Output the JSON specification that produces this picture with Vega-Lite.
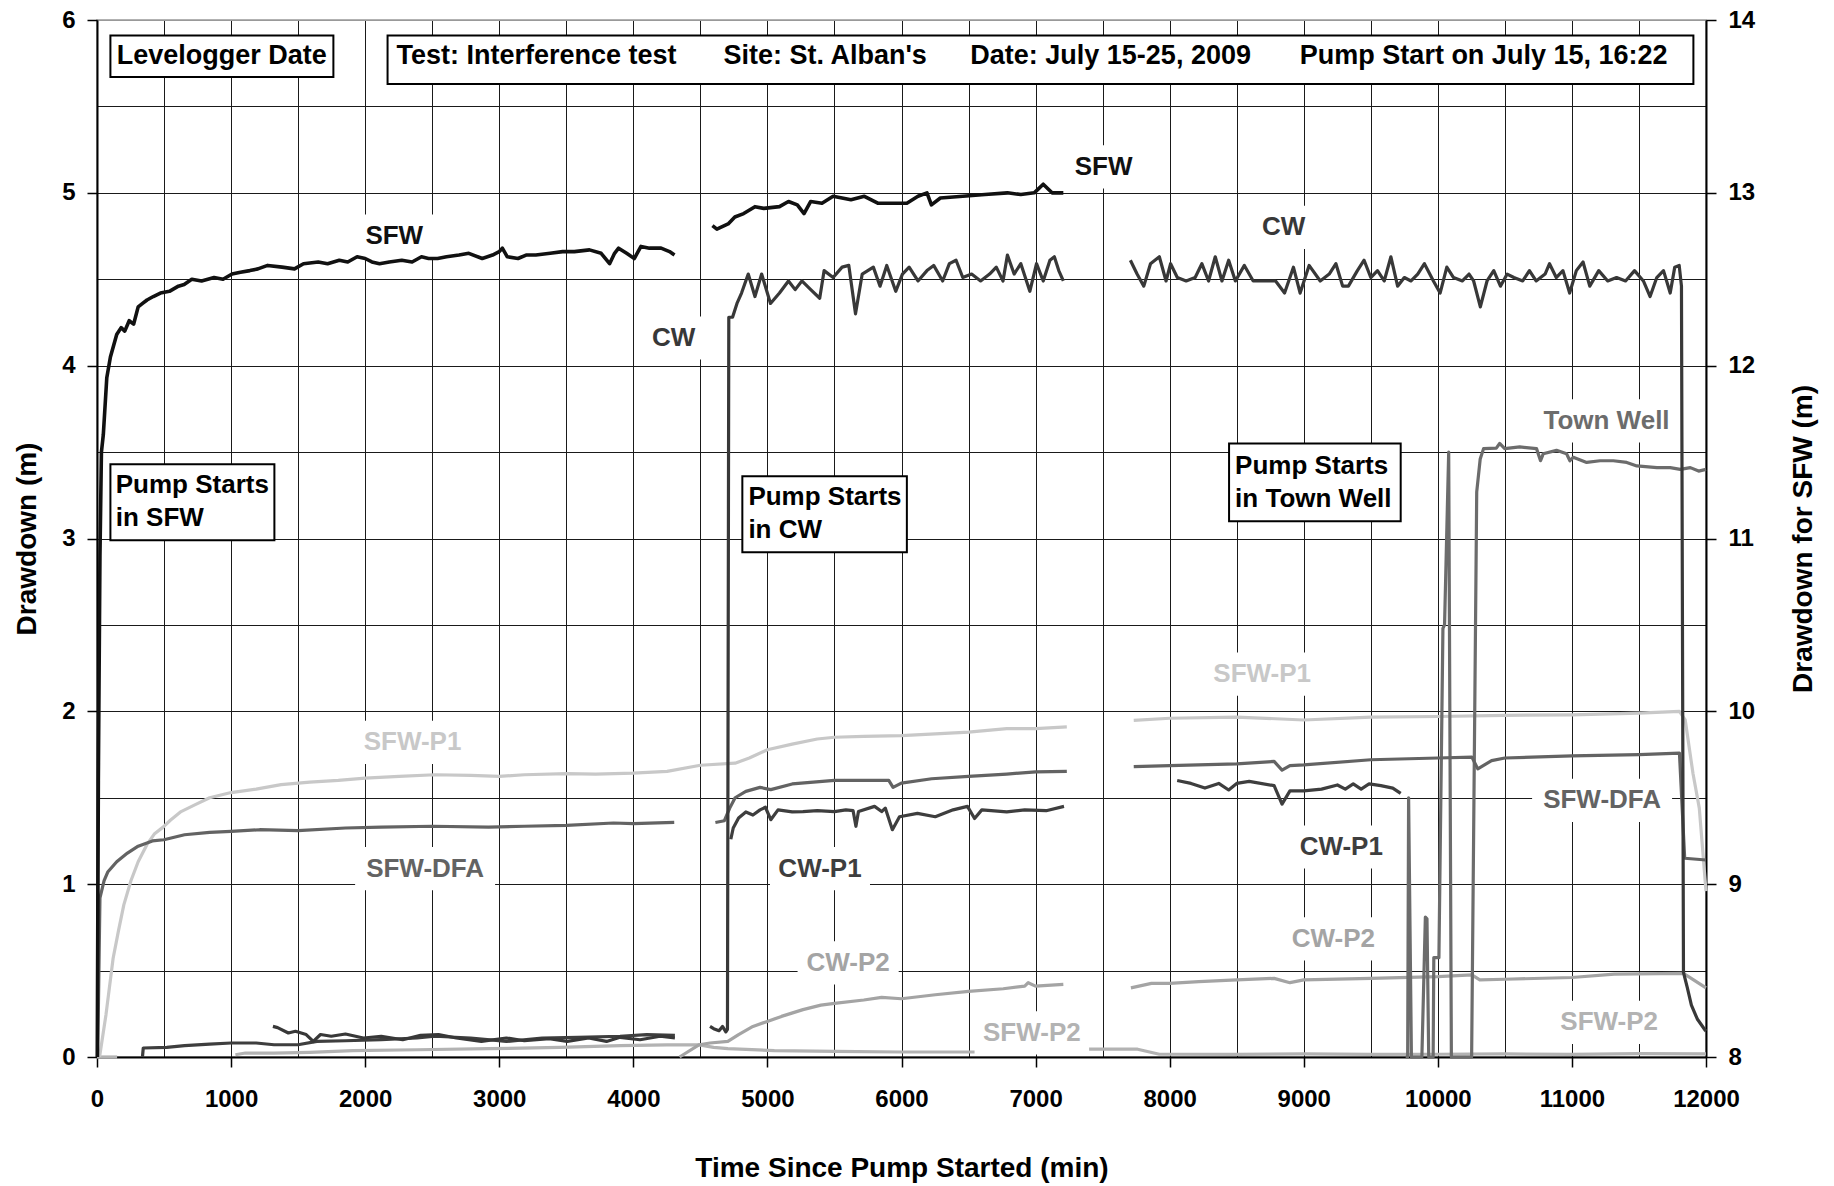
{
"$schema": "https://vega.github.io/schema/vega-lite/v6.json",
"width": 1609, "height": 1037,
"autosize": "none",
"padding": {"left": 97, "top": 20, "right": 128, "bottom": 129},
"background": "white",
"config": {"font": "Liberation Sans", "view": {"stroke": "#999999", "strokeWidth": 1.5}},
"datasets": {
"series": [
{"s":"SFW-P2","g":0,"t":0,"d":0},{"s":"SFW-P2","g":0,"t":150,"d":0},
{"s":"SFW-P2","g":1,"t":1032,"d":0.013},{"s":"SFW-P2","g":1,"t":1107,"d":0.023},{"s":"SFW-P2","g":1,"t":1320,"d":0.023},{"s":"SFW-P2","g":1,"t":1587,"d":0.027},{"s":"SFW-P2","g":1,"t":1907,"d":0.037},{"s":"SFW-P2","g":1,"t":2387,"d":0.042},{"s":"SFW-P2","g":1,"t":2920,"d":0.048},{"s":"SFW-P2","g":1,"t":3453,"d":0.056},{"s":"SFW-P2","g":1,"t":3901,"d":0.066},{"s":"SFW-P2","g":1,"t":4250,"d":0.07},{"s":"SFW-P2","g":1,"t":4492,"d":0.07},{"s":"SFW-P2","g":1,"t":4599,"d":0.056},{"s":"SFW-P2","g":1,"t":4705,"d":0.048},{"s":"SFW-P2","g":1,"t":5052,"d":0.037},{"s":"SFW-P2","g":1,"t":5500,"d":0.033},{"s":"SFW-P2","g":1,"t":5999,"d":0.029},{"s":"SFW-P2","g":1,"t":6545,"d":0.029},
{"s":"SFW-P2","g":2,"t":7399,"d":0.045},{"s":"SFW-P2","g":2,"t":7761,"d":0.045},{"s":"SFW-P2","g":2,"t":7923,"d":0.016},{"s":"SFW-P2","g":2,"t":8500,"d":0.015},{"s":"SFW-P2","g":2,"t":9000,"d":0.018},{"s":"SFW-P2","g":2,"t":9500,"d":0.015},{"s":"SFW-P2","g":2,"t":10000,"d":0.016},{"s":"SFW-P2","g":2,"t":10500,"d":0.018},{"s":"SFW-P2","g":2,"t":11000,"d":0.015},{"s":"SFW-P2","g":2,"t":11500,"d":0.02},{"s":"SFW-P2","g":2,"t":12000,"d":0.018},
{"s":"SFW-P1","g":1,"t":19,"d":0},{"s":"SFW-P1","g":1,"t":67,"d":0.245},{"s":"SFW-P1","g":1,"t":120,"d":0.57},{"s":"SFW-P1","g":1,"t":160,"d":0.73},{"s":"SFW-P1","g":1,"t":200,"d":0.88},{"s":"SFW-P1","g":1,"t":253,"d":1.02},{"s":"SFW-P1","g":1,"t":307,"d":1.13},{"s":"SFW-P1","g":1,"t":373,"d":1.23},{"s":"SFW-P1","g":1,"t":427,"d":1.29},{"s":"SFW-P1","g":1,"t":493,"d":1.33},{"s":"SFW-P1","g":1,"t":547,"d":1.37},{"s":"SFW-P1","g":1,"t":627,"d":1.42},{"s":"SFW-P1","g":1,"t":733,"d":1.46},{"s":"SFW-P1","g":1,"t":840,"d":1.5},{"s":"SFW-P1","g":1,"t":1000,"d":1.53},{"s":"SFW-P1","g":1,"t":1187,"d":1.55},{"s":"SFW-P1","g":1,"t":1373,"d":1.576},{"s":"SFW-P1","g":1,"t":1587,"d":1.59},{"s":"SFW-P1","g":1,"t":1800,"d":1.6},{"s":"SFW-P1","g":1,"t":2000,"d":1.614},{"s":"SFW-P1","g":1,"t":2253,"d":1.624},{"s":"SFW-P1","g":1,"t":2520,"d":1.633},{"s":"SFW-P1","g":1,"t":2787,"d":1.63},{"s":"SFW-P1","g":1,"t":3000,"d":1.624},{"s":"SFW-P1","g":1,"t":3187,"d":1.633},{"s":"SFW-P1","g":1,"t":3501,"d":1.64},{"s":"SFW-P1","g":1,"t":3719,"d":1.637},{"s":"SFW-P1","g":1,"t":3999,"d":1.643},{"s":"SFW-P1","g":1,"t":4252,"d":1.653},{"s":"SFW-P1","g":1,"t":4500,"d":1.688},{"s":"SFW-P1","g":1,"t":4759,"d":1.7},{"s":"SFW-P1","g":1,"t":4865,"d":1.73},{"s":"SFW-P1","g":1,"t":4999,"d":1.778},{"s":"SFW-P1","g":1,"t":5185,"d":1.81},{"s":"SFW-P1","g":1,"t":5372,"d":1.84},{"s":"SFW-P1","g":1,"t":5500,"d":1.85},{"s":"SFW-P1","g":1,"t":5719,"d":1.855},{"s":"SFW-P1","g":1,"t":5999,"d":1.86},{"s":"SFW-P1","g":1,"t":6252,"d":1.87},{"s":"SFW-P1","g":1,"t":6500,"d":1.88},{"s":"SFW-P1","g":1,"t":6785,"d":1.9},{"s":"SFW-P1","g":1,"t":7001,"d":1.9},{"s":"SFW-P1","g":1,"t":7233,"d":1.91},
{"s":"SFW-P1","g":2,"t":7732,"d":1.948},{"s":"SFW-P1","g":2,"t":8000,"d":1.96},{"s":"SFW-P1","g":2,"t":8500,"d":1.967},{"s":"SFW-P1","g":2,"t":9000,"d":1.95},{"s":"SFW-P1","g":2,"t":9500,"d":1.967},{"s":"SFW-P1","g":2,"t":10000,"d":1.97},{"s":"SFW-P1","g":2,"t":10500,"d":1.977},{"s":"SFW-P1","g":2,"t":11000,"d":1.98},{"s":"SFW-P1","g":2,"t":11500,"d":1.99},{"s":"SFW-P1","g":2,"t":11802,"d":2.0},{"s":"SFW-P1","g":2,"t":11845,"d":1.95},{"s":"SFW-P1","g":2,"t":11903,"d":1.64},{"s":"SFW-P1","g":2,"t":11950,"d":1.44},{"s":"SFW-P1","g":2,"t":12000,"d":0.96},
{"s":"CW-P2","g":1,"t":4345,"d":0},{"s":"CW-P2","g":1,"t":4492,"d":0.071},{"s":"CW-P2","g":1,"t":4572,"d":0.081},{"s":"CW-P2","g":1,"t":4705,"d":0.09},{"s":"CW-P2","g":1,"t":4785,"d":0.13},{"s":"CW-P2","g":1,"t":4892,"d":0.177},{"s":"CW-P2","g":1,"t":4999,"d":0.206},{"s":"CW-P2","g":1,"t":5105,"d":0.235},{"s":"CW-P2","g":1,"t":5265,"d":0.274},{"s":"CW-P2","g":1,"t":5399,"d":0.3},{"s":"CW-P2","g":1,"t":5500,"d":0.31},{"s":"CW-P2","g":1,"t":5719,"d":0.33},{"s":"CW-P2","g":1,"t":5852,"d":0.345},{"s":"CW-P2","g":1,"t":5999,"d":0.337},{"s":"CW-P2","g":1,"t":6252,"d":0.36},{"s":"CW-P2","g":1,"t":6500,"d":0.38},{"s":"CW-P2","g":1,"t":6759,"d":0.395},{"s":"CW-P2","g":1,"t":6919,"d":0.41},{"s":"CW-P2","g":1,"t":6945,"d":0.43},{"s":"CW-P2","g":1,"t":6999,"d":0.41},{"s":"CW-P2","g":1,"t":7207,"d":0.42},
{"s":"CW-P2","g":2,"t":7711,"d":0.4},{"s":"CW-P2","g":2,"t":7864,"d":0.426},{"s":"CW-P2","g":2,"t":8000,"d":0.426},{"s":"CW-P2","g":2,"t":8218,"d":0.436},{"s":"CW-P2","g":2,"t":8500,"d":0.446},{"s":"CW-P2","g":2,"t":8779,"d":0.455},{"s":"CW-P2","g":2,"t":8897,"d":0.43},{"s":"CW-P2","g":2,"t":9000,"d":0.446},{"s":"CW-P2","g":2,"t":9500,"d":0.455},{"s":"CW-P2","g":2,"t":10000,"d":0.465},{"s":"CW-P2","g":2,"t":10254,"d":0.475},{"s":"CW-P2","g":2,"t":10313,"d":0.446},{"s":"CW-P2","g":2,"t":10500,"d":0.45},{"s":"CW-P2","g":2,"t":11000,"d":0.46},{"s":"CW-P2","g":2,"t":11316,"d":0.479},{"s":"CW-P2","g":2,"t":11832,"d":0.484},{"s":"CW-P2","g":2,"t":12000,"d":0.4},
{"s":"Town Well","g":1,"t":9760,"d":0},{"s":"Town Well","g":1,"t":9775,"d":0},{"s":"Town Well","g":1,"t":9782,"d":1.5},{"s":"Town Well","g":1,"t":9803,"d":0},{"s":"Town Well","g":1,"t":9881,"d":0},{"s":"Town Well","g":1,"t":9907,"d":0.81},{"s":"Town Well","g":1,"t":9919,"d":0.8},{"s":"Town Well","g":1,"t":9932,"d":0},{"s":"Town Well","g":1,"t":9965,"d":0},{"s":"Town Well","g":1,"t":9970,"d":0.575},{"s":"Town Well","g":1,"t":10008,"d":0.575},{"s":"Town Well","g":1,"t":10038,"d":2.48},{"s":"Town Well","g":1,"t":10050,"d":2.5},{"s":"Town Well","g":1,"t":10081,"d":3.5},{"s":"Town Well","g":1,"t":10101,"d":0},{"s":"Town Well","g":1,"t":10252,"d":0},{"s":"Town Well","g":1,"t":10290,"d":3.27},{"s":"Town Well","g":1,"t":10316,"d":3.46},{"s":"Town Well","g":1,"t":10341,"d":3.52},{"s":"Town Well","g":1,"t":10436,"d":3.523},{"s":"Town Well","g":1,"t":10461,"d":3.55},{"s":"Town Well","g":1,"t":10499,"d":3.52},{"s":"Town Well","g":1,"t":10611,"d":3.53},{"s":"Town Well","g":1,"t":10736,"d":3.52},{"s":"Town Well","g":1,"t":10766,"d":3.45},{"s":"Town Well","g":1,"t":10786,"d":3.49},{"s":"Town Well","g":1,"t":10885,"d":3.51},{"s":"Town Well","g":1,"t":10960,"d":3.49},{"s":"Town Well","g":1,"t":10985,"d":3.45},{"s":"Town Well","g":1,"t":11010,"d":3.47},{"s":"Town Well","g":1,"t":11110,"d":3.44},{"s":"Town Well","g":1,"t":11210,"d":3.45},{"s":"Town Well","g":1,"t":11309,"d":3.45},{"s":"Town Well","g":1,"t":11409,"d":3.44},{"s":"Town Well","g":1,"t":11484,"d":3.42},{"s":"Town Well","g":1,"t":11634,"d":3.41},{"s":"Town Well","g":1,"t":11733,"d":3.41},{"s":"Town Well","g":1,"t":11808,"d":3.4},{"s":"Town Well","g":1,"t":11883,"d":3.41},{"s":"Town Well","g":1,"t":11945,"d":3.39},{"s":"Town Well","g":1,"t":12000,"d":3.4},
{"s":"SFW-DFA","g":1,"t":5,"d":0},{"s":"SFW-DFA","g":1,"t":22,"d":0.92},{"s":"SFW-DFA","g":1,"t":53,"d":1.02},{"s":"SFW-DFA","g":1,"t":80,"d":1.07},{"s":"SFW-DFA","g":1,"t":147,"d":1.13},{"s":"SFW-DFA","g":1,"t":227,"d":1.18},{"s":"SFW-DFA","g":1,"t":307,"d":1.22},{"s":"SFW-DFA","g":1,"t":413,"d":1.25},{"s":"SFW-DFA","g":1,"t":499,"d":1.257},{"s":"SFW-DFA","g":1,"t":653,"d":1.286},{"s":"SFW-DFA","g":1,"t":840,"d":1.3},{"s":"SFW-DFA","g":1,"t":1000,"d":1.306},{"s":"SFW-DFA","g":1,"t":1213,"d":1.315},{"s":"SFW-DFA","g":1,"t":1499,"d":1.31},{"s":"SFW-DFA","g":1,"t":1853,"d":1.325},{"s":"SFW-DFA","g":1,"t":2120,"d":1.33},{"s":"SFW-DFA","g":1,"t":2501,"d":1.335},{"s":"SFW-DFA","g":1,"t":2920,"d":1.33},{"s":"SFW-DFA","g":1,"t":3187,"d":1.335},{"s":"SFW-DFA","g":1,"t":3501,"d":1.34},{"s":"SFW-DFA","g":1,"t":3852,"d":1.354},{"s":"SFW-DFA","g":1,"t":4000,"d":1.35},{"s":"SFW-DFA","g":1,"t":4305,"d":1.357},
{"s":"SFW-DFA","g":2,"t":4612,"d":1.357},{"s":"SFW-DFA","g":2,"t":4679,"d":1.367},{"s":"SFW-DFA","g":2,"t":4719,"d":1.44},{"s":"SFW-DFA","g":2,"t":4759,"d":1.5},{"s":"SFW-DFA","g":2,"t":4839,"d":1.537},{"s":"SFW-DFA","g":2,"t":4945,"d":1.56},{"s":"SFW-DFA","g":2,"t":5025,"d":1.547},{"s":"SFW-DFA","g":2,"t":5185,"d":1.58},{"s":"SFW-DFA","g":2,"t":5500,"d":1.6},{"s":"SFW-DFA","g":2,"t":5905,"d":1.6},{"s":"SFW-DFA","g":2,"t":5937,"d":1.56},{"s":"SFW-DFA","g":2,"t":5999,"d":1.585},{"s":"SFW-DFA","g":2,"t":6225,"d":1.61},{"s":"SFW-DFA","g":2,"t":6500,"d":1.624},{"s":"SFW-DFA","g":2,"t":6785,"d":1.637},{"s":"SFW-DFA","g":2,"t":7001,"d":1.65},{"s":"SFW-DFA","g":2,"t":7233,"d":1.653},
{"s":"SFW-DFA","g":3,"t":7732,"d":1.68},{"s":"SFW-DFA","g":3,"t":8000,"d":1.686},{"s":"SFW-DFA","g":3,"t":8500,"d":1.696},{"s":"SFW-DFA","g":3,"t":8779,"d":1.71},{"s":"SFW-DFA","g":3,"t":8838,"d":1.66},{"s":"SFW-DFA","g":3,"t":8897,"d":1.686},{"s":"SFW-DFA","g":3,"t":9000,"d":1.69},{"s":"SFW-DFA","g":3,"t":9500,"d":1.72},{"s":"SFW-DFA","g":3,"t":10000,"d":1.73},{"s":"SFW-DFA","g":3,"t":10254,"d":1.735},{"s":"SFW-DFA","g":3,"t":10298,"d":1.667},{"s":"SFW-DFA","g":3,"t":10401,"d":1.715},{"s":"SFW-DFA","g":3,"t":10500,"d":1.73},{"s":"SFW-DFA","g":3,"t":11000,"d":1.742},{"s":"SFW-DFA","g":3,"t":11500,"d":1.75},{"s":"SFW-DFA","g":3,"t":11802,"d":1.758},{"s":"SFW-DFA","g":3,"t":11841,"d":1.15},{"s":"SFW-DFA","g":3,"t":12000,"d":1.14},
{"s":"CW-P1","g":1,"t":339,"d":0},{"s":"CW-P1","g":1,"t":345,"d":0.052},{"s":"CW-P1","g":1,"t":520,"d":0.056},{"s":"CW-P1","g":1,"t":653,"d":0.066},{"s":"CW-P1","g":1,"t":840,"d":0.075},{"s":"CW-P1","g":1,"t":1000,"d":0.081},{"s":"CW-P1","g":1,"t":1187,"d":0.081},{"s":"CW-P1","g":1,"t":1320,"d":0.071},{"s":"CW-P1","g":1,"t":1499,"d":0.071},{"s":"CW-P1","g":1,"t":1640,"d":0.09},{"s":"CW-P1","g":1,"t":1853,"d":0.094},{"s":"CW-P1","g":1,"t":2120,"d":0.1},{"s":"CW-P1","g":1,"t":2387,"d":0.11},{"s":"CW-P1","g":1,"t":2520,"d":0.12},{"s":"CW-P1","g":1,"t":2787,"d":0.11},{"s":"CW-P1","g":1,"t":3053,"d":0.09},{"s":"CW-P1","g":1,"t":3320,"d":0.11},{"s":"CW-P1","g":1,"t":3587,"d":0.114},{"s":"CW-P1","g":1,"t":3901,"d":0.12},{"s":"CW-P1","g":1,"t":4100,"d":0.13},{"s":"CW-P1","g":1,"t":4310,"d":0.125},
{"s":"CW-P1","g":2,"t":4727,"d":1.26},{"s":"CW-P1","g":2,"t":4745,"d":1.325},{"s":"CW-P1","g":2,"t":4785,"d":1.383},{"s":"CW-P1","g":2,"t":4839,"d":1.418},{"s":"CW-P1","g":2,"t":4892,"d":1.4},{"s":"CW-P1","g":2,"t":4945,"d":1.43},{"s":"CW-P1","g":2,"t":4985,"d":1.445},{"s":"CW-P1","g":2,"t":5025,"d":1.373},{"s":"CW-P1","g":2,"t":5079,"d":1.43},{"s":"CW-P1","g":2,"t":5185,"d":1.418},{"s":"CW-P1","g":2,"t":5265,"d":1.42},{"s":"CW-P1","g":2,"t":5372,"d":1.425},{"s":"CW-P1","g":2,"t":5500,"d":1.42},{"s":"CW-P1","g":2,"t":5585,"d":1.43},{"s":"CW-P1","g":2,"t":5639,"d":1.425},{"s":"CW-P1","g":2,"t":5660,"d":1.335},{"s":"CW-P1","g":2,"t":5679,"d":1.42},{"s":"CW-P1","g":2,"t":5799,"d":1.45},{"s":"CW-P1","g":2,"t":5852,"d":1.42},{"s":"CW-P1","g":2,"t":5879,"d":1.44},{"s":"CW-P1","g":2,"t":5932,"d":1.315},{"s":"CW-P1","g":2,"t":5985,"d":1.39},{"s":"CW-P1","g":2,"t":6119,"d":1.41},{"s":"CW-P1","g":2,"t":6252,"d":1.39},{"s":"CW-P1","g":2,"t":6385,"d":1.43},{"s":"CW-P1","g":2,"t":6492,"d":1.45},{"s":"CW-P1","g":2,"t":6545,"d":1.38},{"s":"CW-P1","g":2,"t":6599,"d":1.43},{"s":"CW-P1","g":2,"t":6785,"d":1.418},{"s":"CW-P1","g":2,"t":6919,"d":1.43},{"s":"CW-P1","g":2,"t":7079,"d":1.425},{"s":"CW-P1","g":2,"t":7212,"d":1.45},
{"s":"CW-P1","g":3,"t":8056,"d":1.6},{"s":"CW-P1","g":3,"t":8159,"d":1.583},{"s":"CW-P1","g":3,"t":8263,"d":1.556},{"s":"CW-P1","g":3,"t":8366,"d":1.583},{"s":"CW-P1","g":3,"t":8440,"d":1.545},{"s":"CW-P1","g":3,"t":8500,"d":1.583},{"s":"CW-P1","g":3,"t":8593,"d":1.595},{"s":"CW-P1","g":3,"t":8779,"d":1.57},{"s":"CW-P1","g":3,"t":8838,"d":1.463},{"s":"CW-P1","g":3,"t":8897,"d":1.54},{"s":"CW-P1","g":3,"t":9000,"d":1.54},{"s":"CW-P1","g":3,"t":9133,"d":1.55},{"s":"CW-P1","g":3,"t":9251,"d":1.574},{"s":"CW-P1","g":3,"t":9310,"d":1.55},{"s":"CW-P1","g":3,"t":9369,"d":1.58},{"s":"CW-P1","g":3,"t":9428,"d":1.55},{"s":"CW-P1","g":3,"t":9487,"d":1.58},{"s":"CW-P1","g":3,"t":9575,"d":1.57},{"s":"CW-P1","g":3,"t":9664,"d":1.556},{"s":"CW-P1","g":3,"t":9723,"d":1.525},
{"s":"CW","g":1,"t":1312,"d":0.177},{"s":"CW","g":1,"t":1347,"d":0.17},{"s":"CW","g":1,"t":1427,"d":0.139},{"s":"CW","g":1,"t":1480,"d":0.149},{"s":"CW","g":1,"t":1560,"d":0.13},{"s":"CW","g":1,"t":1613,"d":0.09},{"s":"CW","g":1,"t":1667,"d":0.13},{"s":"CW","g":1,"t":1747,"d":0.12},{"s":"CW","g":1,"t":1853,"d":0.133},{"s":"CW","g":1,"t":1987,"d":0.11},{"s":"CW","g":1,"t":2120,"d":0.12},{"s":"CW","g":1,"t":2280,"d":0.1},{"s":"CW","g":1,"t":2413,"d":0.125},{"s":"CW","g":1,"t":2547,"d":0.13},{"s":"CW","g":1,"t":2680,"d":0.11},{"s":"CW","g":1,"t":2867,"d":0.09},{"s":"CW","g":1,"t":3053,"d":0.11},{"s":"CW","g":1,"t":3187,"d":0.094},{"s":"CW","g":1,"t":3373,"d":0.106},{"s":"CW","g":1,"t":3507,"d":0.09},{"s":"CW","g":1,"t":3667,"d":0.11},{"s":"CW","g":1,"t":3800,"d":0.09},{"s":"CW","g":1,"t":3901,"d":0.114},{"s":"CW","g":1,"t":4050,"d":0.1},{"s":"CW","g":1,"t":4200,"d":0.12},{"s":"CW","g":1,"t":4310,"d":0.11},
{"s":"CW","g":2,"t":4572,"d":0.177},{"s":"CW","g":2,"t":4599,"d":0.164},{"s":"CW","g":2,"t":4639,"d":0.152},{"s":"CW","g":2,"t":4665,"d":0.177},{"s":"CW","g":2,"t":4690,"d":0.145},{"s":"CW","g":2,"t":4702,"d":0.16},{"s":"CW","g":2,"t":4712,"d":4.28},{"s":"CW","g":2,"t":4740,"d":4.28},{"s":"CW","g":2,"t":4773,"d":4.36},{"s":"CW","g":2,"t":4807,"d":4.42},{"s":"CW","g":2,"t":4857,"d":4.53},{"s":"CW","g":2,"t":4907,"d":4.4},{"s":"CW","g":2,"t":4957,"d":4.53},{"s":"CW","g":2,"t":5023,"d":4.36},{"s":"CW","g":2,"t":5090,"d":4.42},{"s":"CW","g":2,"t":5157,"d":4.49},{"s":"CW","g":2,"t":5207,"d":4.44},{"s":"CW","g":2,"t":5257,"d":4.49},{"s":"CW","g":2,"t":5323,"d":4.44},{"s":"CW","g":2,"t":5390,"d":4.39},{"s":"CW","g":2,"t":5423,"d":4.55},{"s":"CW","g":2,"t":5490,"d":4.51},{"s":"CW","g":2,"t":5557,"d":4.57},{"s":"CW","g":2,"t":5607,"d":4.58},{"s":"CW","g":2,"t":5657,"d":4.3},{"s":"CW","g":2,"t":5707,"d":4.53},{"s":"CW","g":2,"t":5790,"d":4.57},{"s":"CW","g":2,"t":5840,"d":4.46},{"s":"CW","g":2,"t":5890,"d":4.58},{"s":"CW","g":2,"t":5957,"d":4.43},{"s":"CW","g":2,"t":6007,"d":4.53},{"s":"CW","g":2,"t":6057,"d":4.57},{"s":"CW","g":2,"t":6123,"d":4.49},{"s":"CW","g":2,"t":6190,"d":4.55},{"s":"CW","g":2,"t":6240,"d":4.58},{"s":"CW","g":2,"t":6307,"d":4.49},{"s":"CW","g":2,"t":6357,"d":4.59},{"s":"CW","g":2,"t":6407,"d":4.61},{"s":"CW","g":2,"t":6457,"d":4.51},{"s":"CW","g":2,"t":6523,"d":4.53},{"s":"CW","g":2,"t":6590,"d":4.49},{"s":"CW","g":2,"t":6657,"d":4.53},{"s":"CW","g":2,"t":6707,"d":4.57},{"s":"CW","g":2,"t":6757,"d":4.49},{"s":"CW","g":2,"t":6790,"d":4.64},{"s":"CW","g":2,"t":6840,"d":4.53},{"s":"CW","g":2,"t":6890,"d":4.59},{"s":"CW","g":2,"t":6957,"d":4.43},{"s":"CW","g":2,"t":7007,"d":4.59},{"s":"CW","g":2,"t":7057,"d":4.49},{"s":"CW","g":2,"t":7107,"d":4.61},{"s":"CW","g":2,"t":7140,"d":4.63},{"s":"CW","g":2,"t":7173,"d":4.55},{"s":"CW","g":2,"t":7207,"d":4.49},
{"s":"CW","g":3,"t":7707,"d":4.61},{"s":"CW","g":3,"t":7757,"d":4.53},{"s":"CW","g":3,"t":7807,"d":4.46},{"s":"CW","g":3,"t":7857,"d":4.59},{"s":"CW","g":3,"t":7923,"d":4.63},{"s":"CW","g":3,"t":7973,"d":4.49},{"s":"CW","g":3,"t":8007,"d":4.59},{"s":"CW","g":3,"t":8057,"d":4.51},{"s":"CW","g":3,"t":8123,"d":4.49},{"s":"CW","g":3,"t":8190,"d":4.51},{"s":"CW","g":3,"t":8240,"d":4.59},{"s":"CW","g":3,"t":8290,"d":4.49},{"s":"CW","g":3,"t":8340,"d":4.63},{"s":"CW","g":3,"t":8390,"d":4.49},{"s":"CW","g":3,"t":8440,"d":4.61},{"s":"CW","g":3,"t":8490,"d":4.49},{"s":"CW","g":3,"t":8557,"d":4.58},{"s":"CW","g":3,"t":8623,"d":4.49},{"s":"CW","g":3,"t":8723,"d":4.49},{"s":"CW","g":3,"t":8790,"d":4.49},{"s":"CW","g":3,"t":8857,"d":4.42},{"s":"CW","g":3,"t":8923,"d":4.57},{"s":"CW","g":3,"t":8973,"d":4.42},{"s":"CW","g":3,"t":9040,"d":4.58},{"s":"CW","g":3,"t":9123,"d":4.49},{"s":"CW","g":3,"t":9190,"d":4.53},{"s":"CW","g":3,"t":9240,"d":4.59},{"s":"CW","g":3,"t":9290,"d":4.46},{"s":"CW","g":3,"t":9333,"d":4.46},{"s":"CW","g":3,"t":9400,"d":4.55},{"s":"CW","g":3,"t":9450,"d":4.61},{"s":"CW","g":3,"t":9500,"d":4.51},{"s":"CW","g":3,"t":9550,"d":4.55},{"s":"CW","g":3,"t":9600,"d":4.49},{"s":"CW","g":3,"t":9650,"d":4.63},{"s":"CW","g":3,"t":9700,"d":4.46},{"s":"CW","g":3,"t":9750,"d":4.51},{"s":"CW","g":3,"t":9800,"d":4.49},{"s":"CW","g":3,"t":9850,"d":4.53},{"s":"CW","g":3,"t":9900,"d":4.59},{"s":"CW","g":3,"t":9967,"d":4.49},{"s":"CW","g":3,"t":10017,"d":4.42},{"s":"CW","g":3,"t":10067,"d":4.57},{"s":"CW","g":3,"t":10117,"d":4.51},{"s":"CW","g":3,"t":10183,"d":4.49},{"s":"CW","g":3,"t":10233,"d":4.53},{"s":"CW","g":3,"t":10267,"d":4.49},{"s":"CW","g":3,"t":10317,"d":4.34},{"s":"CW","g":3,"t":10367,"d":4.49},{"s":"CW","g":3,"t":10417,"d":4.55},{"s":"CW","g":3,"t":10467,"d":4.46},{"s":"CW","g":3,"t":10517,"d":4.53},{"s":"CW","g":3,"t":10567,"d":4.51},{"s":"CW","g":3,"t":10633,"d":4.49},{"s":"CW","g":3,"t":10683,"d":4.55},{"s":"CW","g":3,"t":10733,"d":4.49},{"s":"CW","g":3,"t":10800,"d":4.53},{"s":"CW","g":3,"t":10833,"d":4.59},{"s":"CW","g":3,"t":10883,"d":4.51},{"s":"CW","g":3,"t":10933,"d":4.55},{"s":"CW","g":3,"t":10983,"d":4.42},{"s":"CW","g":3,"t":11033,"d":4.55},{"s":"CW","g":3,"t":11083,"d":4.6},{"s":"CW","g":3,"t":11133,"d":4.46},{"s":"CW","g":3,"t":11200,"d":4.55},{"s":"CW","g":3,"t":11267,"d":4.49},{"s":"CW","g":3,"t":11333,"d":4.51},{"s":"CW","g":3,"t":11400,"d":4.49},{"s":"CW","g":3,"t":11467,"d":4.55},{"s":"CW","g":3,"t":11533,"d":4.49},{"s":"CW","g":3,"t":11583,"d":4.4},{"s":"CW","g":3,"t":11633,"d":4.51},{"s":"CW","g":3,"t":11683,"d":4.55},{"s":"CW","g":3,"t":11733,"d":4.42},{"s":"CW","g":3,"t":11767,"d":4.57},{"s":"CW","g":3,"t":11800,"d":4.58},{"s":"CW","g":3,"t":11817,"d":4.46},{"s":"CW","g":3,"t":11832,"d":0.49},{"s":"CW","g":3,"t":11861,"d":0.4},{"s":"CW","g":3,"t":11891,"d":0.3},{"s":"CW","g":3,"t":11935,"d":0.22},{"s":"CW","g":3,"t":11994,"d":0.155},{"s":"CW","g":3,"t":12000,"d":0.15}
],
"sfw": [
{"g":1,"t":2,"r":8},{"g":1,"t":10,"r":9.6},{"g":1,"t":22,"r":10.9},{"g":1,"t":33,"r":11.5},{"g":1,"t":47,"r":11.6},{"g":1,"t":73,"r":11.93},{"g":1,"t":100,"r":12.05},{"g":1,"t":147,"r":12.18},{"g":1,"t":180,"r":12.22},{"g":1,"t":207,"r":12.2},{"g":1,"t":240,"r":12.26},{"g":1,"t":273,"r":12.24},{"g":1,"t":307,"r":12.34},{"g":1,"t":340,"r":12.36},{"g":1,"t":373,"r":12.38},{"g":1,"t":420,"r":12.4},{"g":1,"t":473,"r":12.42},{"g":1,"t":540,"r":12.43},{"g":1,"t":607,"r":12.46},{"g":1,"t":650,"r":12.47},{"g":1,"t":707,"r":12.5},{"g":1,"t":780,"r":12.49},{"g":1,"t":873,"r":12.51},{"g":1,"t":940,"r":12.5},{"g":1,"t":1007,"r":12.53},{"g":1,"t":1070,"r":12.54},{"g":1,"t":1140,"r":12.55},{"g":1,"t":1200,"r":12.56},{"g":1,"t":1273,"r":12.58},{"g":1,"t":1380,"r":12.57},{"g":1,"t":1473,"r":12.56},{"g":1,"t":1540,"r":12.59},{"g":1,"t":1650,"r":12.6},{"g":1,"t":1720,"r":12.59},{"g":1,"t":1807,"r":12.61},{"g":1,"t":1870,"r":12.6},{"g":1,"t":1940,"r":12.63},{"g":1,"t":2000,"r":12.62},{"g":1,"t":2050,"r":12.6},{"g":1,"t":2107,"r":12.59},{"g":1,"t":2180,"r":12.6},{"g":1,"t":2273,"r":12.61},{"g":1,"t":2350,"r":12.6},{"g":1,"t":2420,"r":12.63},{"g":1,"t":2473,"r":12.62},{"g":1,"t":2540,"r":12.62},{"g":1,"t":2607,"r":12.63},{"g":1,"t":2700,"r":12.64},{"g":1,"t":2773,"r":12.65},{"g":1,"t":2873,"r":12.62},{"g":1,"t":2950,"r":12.64},{"g":1,"t":3000,"r":12.66},{"g":1,"t":3023,"r":12.68},{"g":1,"t":3060,"r":12.63},{"g":1,"t":3140,"r":12.62},{"g":1,"t":3200,"r":12.64},{"g":1,"t":3273,"r":12.64},{"g":1,"t":3380,"r":12.65},{"g":1,"t":3473,"r":12.66},{"g":1,"t":3560,"r":12.66},{"g":1,"t":3673,"r":12.67},{"g":1,"t":3760,"r":12.65},{"g":1,"t":3823,"r":12.59},{"g":1,"t":3860,"r":12.65},{"g":1,"t":3890,"r":12.68},{"g":1,"t":3950,"r":12.65},{"g":1,"t":4007,"r":12.62},{"g":1,"t":4057,"r":12.69},{"g":1,"t":4120,"r":12.68},{"g":1,"t":4207,"r":12.68},{"g":1,"t":4270,"r":12.66},{"g":1,"t":4307,"r":12.64},
{"g":2,"t":4590,"r":12.81},{"g":2,"t":4623,"r":12.79},{"g":2,"t":4707,"r":12.82},{"g":2,"t":4757,"r":12.86},{"g":2,"t":4823,"r":12.88},{"g":2,"t":4907,"r":12.92},{"g":2,"t":4973,"r":12.91},{"g":2,"t":5090,"r":12.92},{"g":2,"t":5157,"r":12.95},{"g":2,"t":5223,"r":12.93},{"g":2,"t":5273,"r":12.88},{"g":2,"t":5323,"r":12.95},{"g":2,"t":5407,"r":12.94},{"g":2,"t":5490,"r":12.98},{"g":2,"t":5623,"r":12.96},{"g":2,"t":5723,"r":12.98},{"g":2,"t":5823,"r":12.94},{"g":2,"t":5923,"r":12.94},{"g":2,"t":6040,"r":12.94},{"g":2,"t":6123,"r":12.98},{"g":2,"t":6190,"r":13.0},{"g":2,"t":6223,"r":12.93},{"g":2,"t":6290,"r":12.97},{"g":2,"t":6457,"r":12.98},{"g":2,"t":6623,"r":12.99},{"g":2,"t":6790,"r":13.0},{"g":2,"t":6890,"r":12.99},{"g":2,"t":6990,"r":13.0},{"g":2,"t":7057,"r":13.05},{"g":2,"t":7123,"r":13.0},{"g":2,"t":7207,"r":13.0}
],
"labelbg": [
{"t":1926,"t2":2508,"d":4.625,"d2":4.875},
{"t":7216,"t2":7798,"d":5.025,"d2":5.275},
{"t":8619,"t2":9081,"d":4.675,"d2":4.925},
{"t":4069,"t2":4531,"d":4.035,"d2":4.285},
{"t":10710,"t2":11806,"d":3.555,"d2":3.805},
{"t":1924,"t2":2782,"d":1.695,"d2":1.945},
{"t":1925,"t2":2969,"d":0.965,"d2":1.215},
{"t":5019,"t2":5765,"d":0.965,"d2":1.215},
{"t":5225,"t2":5979,"d":0.42,"d2":0.67},
{"t":6539,"t2":7405,"d":0.015,"d2":0.265},
{"t":8261,"t2":9119,"d":2.09,"d2":2.34},
{"t":10703,"t2":11747,"d":1.36,"d2":1.61},
{"t":8907,"t2":9653,"d":1.09,"d2":1.34},
{"t":8844,"t2":9598,"d":0.558,"d2":0.808},
{"t":10845,"t2":11711,"d":0.075,"d2":0.325}
],
"labels": [
{"s":"SFW","label":"SFW","t":2217,"d":4.75},
{"s":"SFW","label":"SFW","t":7507,"d":5.15},
{"s":"CW","label":"CW","t":8850,"d":4.8},
{"s":"CW","label":"CW","t":4300,"d":4.16},
{"s":"Town Well","label":"Town Well","t":11258,"d":3.68},
{"s":"SFW-P1","label":"SFW-P1","t":2353,"d":1.82},
{"s":"SFW-DFA","label":"SFW-DFA","t":2447,"d":1.09},
{"s":"CW-P1","label":"CW-P1","t":5392,"d":1.09},
{"s":"CW-P2","label":"CW-P2","t":5602,"d":0.545},
{"s":"SFW-P2","label":"SFW-P2","t":6972,"d":0.14},
{"s":"SFW-P1","label":"SFW-P1","t":8690,"d":2.215},
{"s":"SFW-DFA","label":"SFW-DFA","t":11225,"d":1.485},
{"s":"CW-P1","label":"CW-P1","t":9280,"d":1.215},
{"s":"CW-P2","label":"CW-P2","t":9221,"d":0.683},
{"s":"SFW-P2","label":"SFW-P2","t":11278,"d":0.2}
],
"boxes": [
{"t":100,"t2":1763,"d":5.67,"d2":5.91},
{"t":2167,"t2":11906,"d":5.63,"d2":5.91},
{"t":100,"t2":1323,"d":2.99,"d2":3.43},
{"t":4813,"t2":6040,"d":2.92,"d2":3.36},
{"t":8443,"t2":9723,"d":3.1,"d2":3.55}
],
"boxtext": [
{"k":"a","txt":"Levelogger Date","t":147,"d":5.79},
{"k":"a","txt":"Test: Interference test","t":2233,"d":5.79},
{"k":"a","txt":"Site: St. Alban's","t":4672,"d":5.79},
{"k":"a","txt":"Date: July 15-25, 2009","t":6513,"d":5.79},
{"k":"a","txt":"Pump Start on July 15, 16:22","t":8971,"d":5.79},
{"k":"c","txt":"Pump Starts","t":140,"d":3.31},
{"k":"c","txt":"in SFW","t":140,"d":3.12},
{"k":"c","txt":"Pump Starts","t":4858,"d":3.24},
{"k":"c","txt":"in CW","t":4858,"d":3.05},
{"k":"c","txt":"Pump Starts","t":8488,"d":3.42},
{"k":"c","txt":"in Town Well","t":8488,"d":3.23}
]
},
"encoding": {
"x": {"field": "t", "type": "quantitative", "scale": {"domain": [0, 12000], "nice": false},
"axis": {"title": "Time Since Pump Started (min)", "values": [0,500,1000,1500,2000,2500,3000,3500,4000,4500,5000,5500,6000,6500,7000,7500,8000,8500,9000,9500,10000,10500,11000,11500,12000],
"labelExpr": "datum.value % 1000 === 0 ? format(datum.value, 'd') : ''", "labelFlush": false, "labelOverlap": false,
"grid": true, "gridColor": "#1a1a1a", "gridWidth": 1,
"tickColor": {"condition": {"test": "datum.value % 1000 === 0", "value": "black"}, "value": "transparent"},
"tickSize": 10, "tickWidth": 1.5, "domainColor": "black", "domainWidth": 2,
"labelFont": "Liberation Sans", "labelFontSize": 24, "labelFontWeight": "bold", "labelColor": "black", "labelPadding": 20,
"titleFont": "Liberation Sans", "titleFontSize": 28, "titleFontWeight": "bold", "titleColor": "black", "titlePadding": 43}}
},
"layer": [
{
"encoding": {
"y": {"field": "d", "type": "quantitative", "scale": {"domain": [0, 6], "nice": false},
"axis": {"title": "Drawdown (m)", "values": [0,0.5,1,1.5,2,2.5,3,3.5,4,4.5,5,5.5,6],
"labelExpr": "datum.value % 1 === 0 ? format(datum.value, 'd') : ''", "labelOverlap": false,
"grid": true, "gridColor": {"condition": {"test": "datum.value === 6", "value": "#999999"}, "value": "#1a1a1a"}, "gridWidth": 1,
"tickColor": {"condition": {"test": "datum.value % 1 === 0", "value": "black"}, "value": "transparent"},
"tickSize": 10, "tickWidth": 1.5, "domainColor": "black", "domainWidth": 2,
"labelFont": "Liberation Sans", "labelFontSize": 24, "labelFontWeight": "bold", "labelColor": "black", "labelPadding": 12,
"titleFont": "Liberation Sans", "titleFontSize": 28, "titleFontWeight": "bold", "titleColor": "black", "titlePadding": 20}}
},
"layer": [
{
"data": {"name": "labelbg"},
"mark": {"type": "rect", "fill": "white", "strokeWidth": 0},
"encoding": {"x2": {"field": "t2"}, "y2": {"field": "d2"}}
},
{
"data": {"name": "boxes"},
"mark": {"type": "rect", "fill": "white", "stroke": "black", "strokeWidth": 2},
"encoding": {"x2": {"field": "t2"}, "y2": {"field": "d2"}}
},
{
"data": {"name": "series"},
"mark": {"type": "line", "strokeWidth": 3.2, "strokeJoin": "round"},
"encoding": {
"detail": {"field": "g", "type": "nominal"},
"color": {"field": "s", "type": "nominal", "legend": null,
"scale": {"domain": ["SFW","CW","CW-P1","SFW-DFA","Town Well","CW-P2","SFW-P2","SFW-P1"],
"range": ["#111111","#383838","#3e3e3e","#636363","#6c6c6c","#a4a4a4","#b3b3b3","#c8c8c8"]}},
"order": {"field": "t", "type": "quantitative"}
}
},
{
"data": {"name": "labels"},
"mark": {"type": "text", "font": "Liberation Sans", "fontSize": 26, "fontWeight": "bold", "align": "center", "baseline": "middle"},
"encoding": {
"text": {"field": "label"},
"color": {"field": "s", "type": "nominal", "legend": null}
}
},
{
"data": {"name": "boxtext"},
"transform": [{"filter": "datum.k === 'a'"}],
"mark": {"type": "text", "font": "Liberation Sans", "fontSize": 27, "fontWeight": "bold", "align": "left", "baseline": "middle", "color": "black"},
"encoding": {"text": {"field": "txt"}}
},
{
"data": {"name": "boxtext"},
"transform": [{"filter": "datum.k === 'c'"}],
"mark": {"type": "text", "font": "Liberation Sans", "fontSize": 26, "fontWeight": "bold", "align": "left", "baseline": "middle", "color": "black"},
"encoding": {"text": {"field": "txt"}}
}
]
},
{
"data": {"name": "sfw"},
"mark": {"type": "line", "strokeWidth": 3.6, "color": "#111111", "strokeJoin": "round"},
"encoding": {
"y": {"field": "r", "type": "quantitative", "scale": {"domain": [8, 14], "nice": false},
"axis": {"orient": "right", "title": "Drawdown for SFW (m)", "values": [8,9,10,11,12,13,14], "grid": false,
"tickSize": 10, "tickWidth": 1.5, "tickColor": "black", "domainColor": "black", "domainWidth": 2,
"labelFont": "Liberation Sans", "labelFontSize": 24, "labelFontWeight": "bold", "labelColor": "black", "labelPadding": 12,
"titleFont": "Liberation Sans", "titleFontSize": 28, "titleFontWeight": "bold", "titleColor": "black", "titleAngle": 270, "titleBaseline": "top", "titlePadding": 35}},
"detail": {"field": "g", "type": "nominal"},
"order": {"field": "t", "type": "quantitative"}
}
}
],
"resolve": {"scale": {"y": "independent"}}
}
